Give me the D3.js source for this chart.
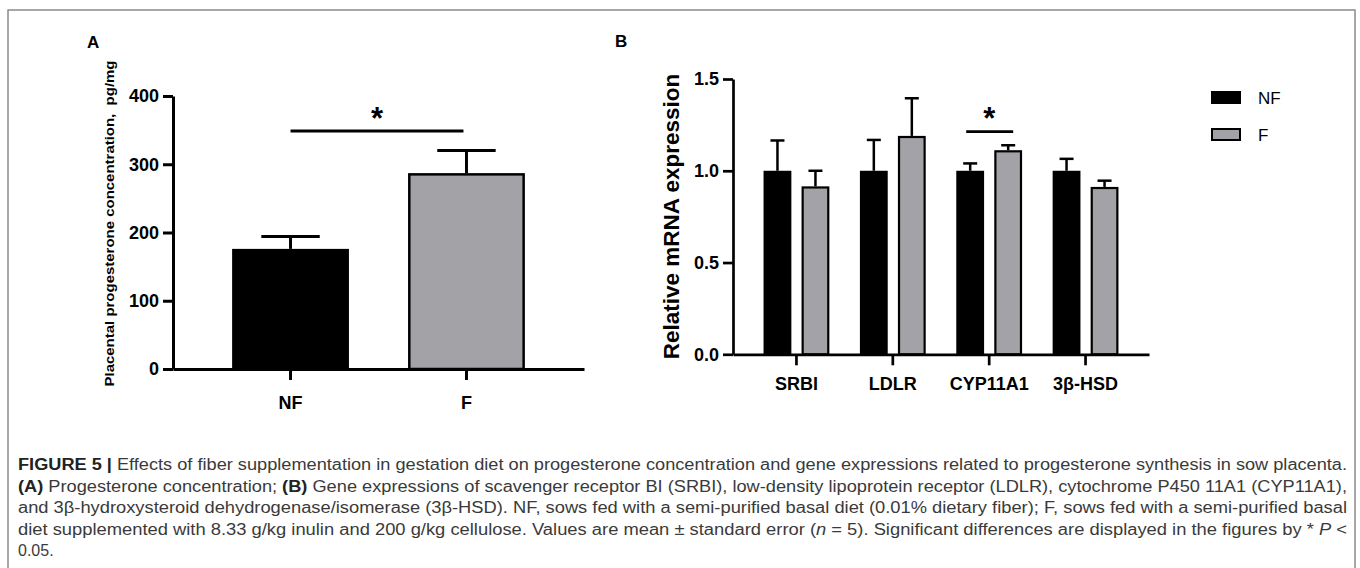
<!DOCTYPE html>
<html>
<head>
<meta charset="utf-8">
<script src="https://cdn.jsdelivr.net/npm/d3@7"></script>
<style>
    body { margin: 0; background: #fff; }
    svg { display: block; }
    text { font-family: "Liberation Sans", Arial, sans-serif; }
</style>
</head>
<body>
<svg id="chart" width="1360" height="568"></svg>
<script>
// --- Data ---
const groups = ["NF", "F"];
const groupColors = ["#000000", "#a3a2a7"];

// panel A: placental progesterone, pg/mg
const progMean = [176, 287];
const progErr = [18, 33];
const progTicks = [0, 100, 200, 300, 400];

// panel B: relative mRNA expression
const genes = ["SRBI", "LDLR", "CYP11A1", "3β-HSD"];
const nfMean = [1.0, 1.0, 1.0, 1.0];
const nfErr = [0.165, 0.168, 0.04, 0.065];
const fMean = [0.915, 1.19, 1.112, 0.912];
const fErr = [0.085, 0.205, 0.027, 0.034];
const mrnaTicks = [0, 0.5, 1.0, 1.5];

const captionLines = [
    [{ t: "FIGURE 5 |", b: 1 }, { t: " Effects of fiber supplementation in gestation diet on progesterone concentration and gene expressions related to progesterone synthesis in sow placenta." }],
    [{ t: "(A)", b: 1 }, { t: " Progesterone concentration; " }, { t: "(B)", b: 1 }, { t: " Gene expressions of scavenger receptor BI (SRBI), low-density lipoprotein receptor (LDLR), cytochrome P450 11A1 (CYP11A1)," }],
    [{ t: "and 3β-hydroxysteroid dehydrogenase/isomerase (3β-HSD). NF, sows fed with a semi-purified basal diet (0.01% dietary fiber); F, sows fed with a semi-purified basal" }],
    [{ t: "diet supplemented with 8.33 g/kg inulin and 200 g/kg cellulose. Values are mean ± standard error (" }, { t: "n", i: 1 }, { t: " = 5). Significant differences are displayed in the figures by * " }, { t: "P", i: 1 }, { t: " <" }],
    [{ t: "0.05." }]
];

const svg = d3.select("#chart");

// frame
svg.append("path")
    .attr("d", "M8,580 V10 H1355 V580")
    .attr("fill", "none")
    .attr("stroke", "#8a8a8a")
    .attr("stroke-width", 1.5);

function styleAxis(g, w) {
    g.selectAll(".domain").attr("stroke", "#000").attr("stroke-width", w);
    g.selectAll(".tick line").attr("stroke", "#000").attr("stroke-width", w);
    g.selectAll("text")
        .attr("fill", "#000")
        .attr("font-weight", "bold")
        .attr("font-size", 18);
}

function errorBar(g, cx, y0, y1, cap, w) {
    g.append("line").attr("x1", cx).attr("x2", cx).attr("y1", y0).attr("y2", y1)
        .attr("stroke", "#000").attr("stroke-width", w);
    g.append("line").attr("x1", cx - cap / 2).attr("x2", cx + cap / 2).attr("y1", y1).attr("y2", y1)
        .attr("stroke", "#000").attr("stroke-width", w);
}

// --- Panel A ---
const gA = svg.append("g");
const xA = d3.scaleBand().domain(groups).range([173, 584]).padding(0.336);
const yA = d3.scaleLinear().domain([0, 400]).range([369, 96]);

gA.append("text").attr("x", 87).attr("y", 48)
    .attr("font-weight", "bold").attr("font-size", 17).text("A");

groups.forEach((k, i) => {
    const x0 = xA(k), bw = xA.bandwidth();
    errorBar(gA, x0 + bw / 2, yA(progMean[i]), yA(progMean[i] + progErr[i]), bw * 0.5, 3);
    gA.append("rect")
        .attr("x", x0 + (i ? 1.25 : 0)).attr("y", yA(progMean[i]) + (i ? 1.25 : 0))
        .attr("width", bw - (i ? 2.5 : 0))
        .attr("height", yA(0) - yA(progMean[i]) - (i ? 1.25 : 0))
        .attr("fill", groupColors[i])
        .attr("stroke", i ? "#000" : "none")
        .attr("stroke-width", 2.5);
});

gA.append("g").attr("transform", "translate(173,0)")
    .call(d3.axisLeft(yA).tickValues(progTicks).tickSize(10).tickSizeOuter(0).tickPadding(4))
    .call(g => styleAxis(g, 3));
gA.append("g").attr("transform", "translate(0,369)")
    .call(d3.axisBottom(xA).tickSize(11).tickSizeOuter(0).tickPadding(16))
    .call(g => styleAxis(g, 3));

gA.append("text")
    .attr("transform", "translate(114,223.5) rotate(-90)")
    .attr("text-anchor", "middle")
    .attr("font-weight", "bold").attr("font-size", 13.5)
    .attr("textLength", 326).attr("lengthAdjust", "spacingAndGlyphs")
    .attr("xml:space", "preserve")
    .text("Placental progesterone concentration,  pg/mg");

// significance A
const sA1 = xA("NF") + xA.bandwidth() / 2, sA2 = xA("F") + xA.bandwidth() / 2 - 3;
gA.append("line").attr("x1", sA1).attr("x2", sA2).attr("y1", 131).attr("y2", 131)
    .attr("stroke", "#000").attr("stroke-width", 3);
gA.append("text").attr("x", (sA1 + sA2) / 2).attr("y", 129)
    .attr("text-anchor", "middle").attr("font-weight", "bold").attr("font-size", 31).text("*");

// --- Panel B ---
const gB = svg.append("g");
const xB = d3.scaleBand().domain(genes).range([733, 1149]).padding(0.317);
const xB1 = d3.scaleBand().domain(groups).range([0, xB.bandwidth()]).paddingInner(0.268);
const yB = d3.scaleLinear().domain([0, 1.5]).range([354.3, 79]);

gB.append("text").attr("x", 615).attr("y", 47)
    .attr("font-weight", "bold").attr("font-size", 17).text("B");

const bMeans = [nfMean, fMean], bErrs = [nfErr, fErr];
genes.forEach((gname, j) => {
    groups.forEach((k, i) => {
        const x0 = xB(gname) + xB1(k), bw = xB1.bandwidth();
        const m = bMeans[i][j], e = bErrs[i][j];
        errorBar(gB, x0 + bw / 2, yB(m), yB(m + e), 14, 2.5);
        gB.append("rect")
            .attr("x", x0 + (i ? 1.1 : 0)).attr("y", yB(m) + (i ? 1.1 : 0))
            .attr("width", bw - (i ? 2.2 : 0))
            .attr("height", yB(0) - yB(m) - (i ? 1.1 : 0))
            .attr("fill", groupColors[i])
            .attr("stroke", i ? "#000" : "none")
            .attr("stroke-width", 2.2);
    });
});

gB.append("g").attr("transform", "translate(733,0)")
    .call(d3.axisLeft(yB).tickValues(mrnaTicks).tickFormat(d3.format(".1f")).tickSize(10).tickSizeOuter(0).tickPadding(4))
    .call(g => styleAxis(g, 2.7));
gB.append("g").attr("transform", "translate(0,354.3)")
    .call(d3.axisBottom(xB).tickSize(11).tickSizeOuter(0).tickPadding(12))
    .call(g => styleAxis(g, 2.7));

gB.append("text")
    .attr("transform", "translate(679,216.5) rotate(-90)")
    .attr("text-anchor", "middle")
    .attr("font-weight", "bold").attr("font-size", 22.5)
    .text("Relative mRNA expression");

// significance B (CYP11A1)
const cx = xB("CYP11A1") + xB.bandwidth() / 2;
gB.append("line").attr("x1", cx - 23).attr("x2", cx + 24).attr("y1", 131.7).attr("y2", 131.7)
    .attr("stroke", "#000").attr("stroke-width", 2.7);
gB.append("text").attr("x", cx).attr("y", 129)
    .attr("text-anchor", "middle").attr("font-weight", "bold").attr("font-size", 31).text("*");

// legend
const leg = svg.append("g");
groups.forEach((k, i) => {
    const y = 91 + i * 37;
    leg.append("rect")
        .attr("x", 1211 + (i ? 1 : 0)).attr("y", y + (i ? 1 : 0))
        .attr("width", 30 - (i ? 2 : 0)).attr("height", 13 - (i ? 2 : 0))
        .attr("fill", groupColors[i])
        .attr("stroke", i ? "#000" : "none").attr("stroke-width", 2);
    leg.append("text").attr("x", 1258).attr("y", y + 13)
        .attr("font-size", 17).attr("fill", "#000").text(k);
});

// caption
const cap = svg.append("g").attr("fill", "#3a3a3a");
captionLines.forEach((segs, li) => {
    const t = cap.append("text")
        .attr("x", 18).attr("y", 470 + li * 21.5)
        .attr("font-size", 16)
        .attr("xml:space", "preserve");
    if (li < captionLines.length - 1) {
        t.attr("textLength", 1329).attr("lengthAdjust", "spacingAndGlyphs");
    }
    segs.forEach(s => {
        t.append("tspan")
            .attr("font-weight", s.b ? "bold" : null)
            .attr("font-style", s.i ? "italic" : null)
            .attr("fill", s.b ? "#222" : null)
            .text(s.t);
    });
});
</script>
</body>
</html>
